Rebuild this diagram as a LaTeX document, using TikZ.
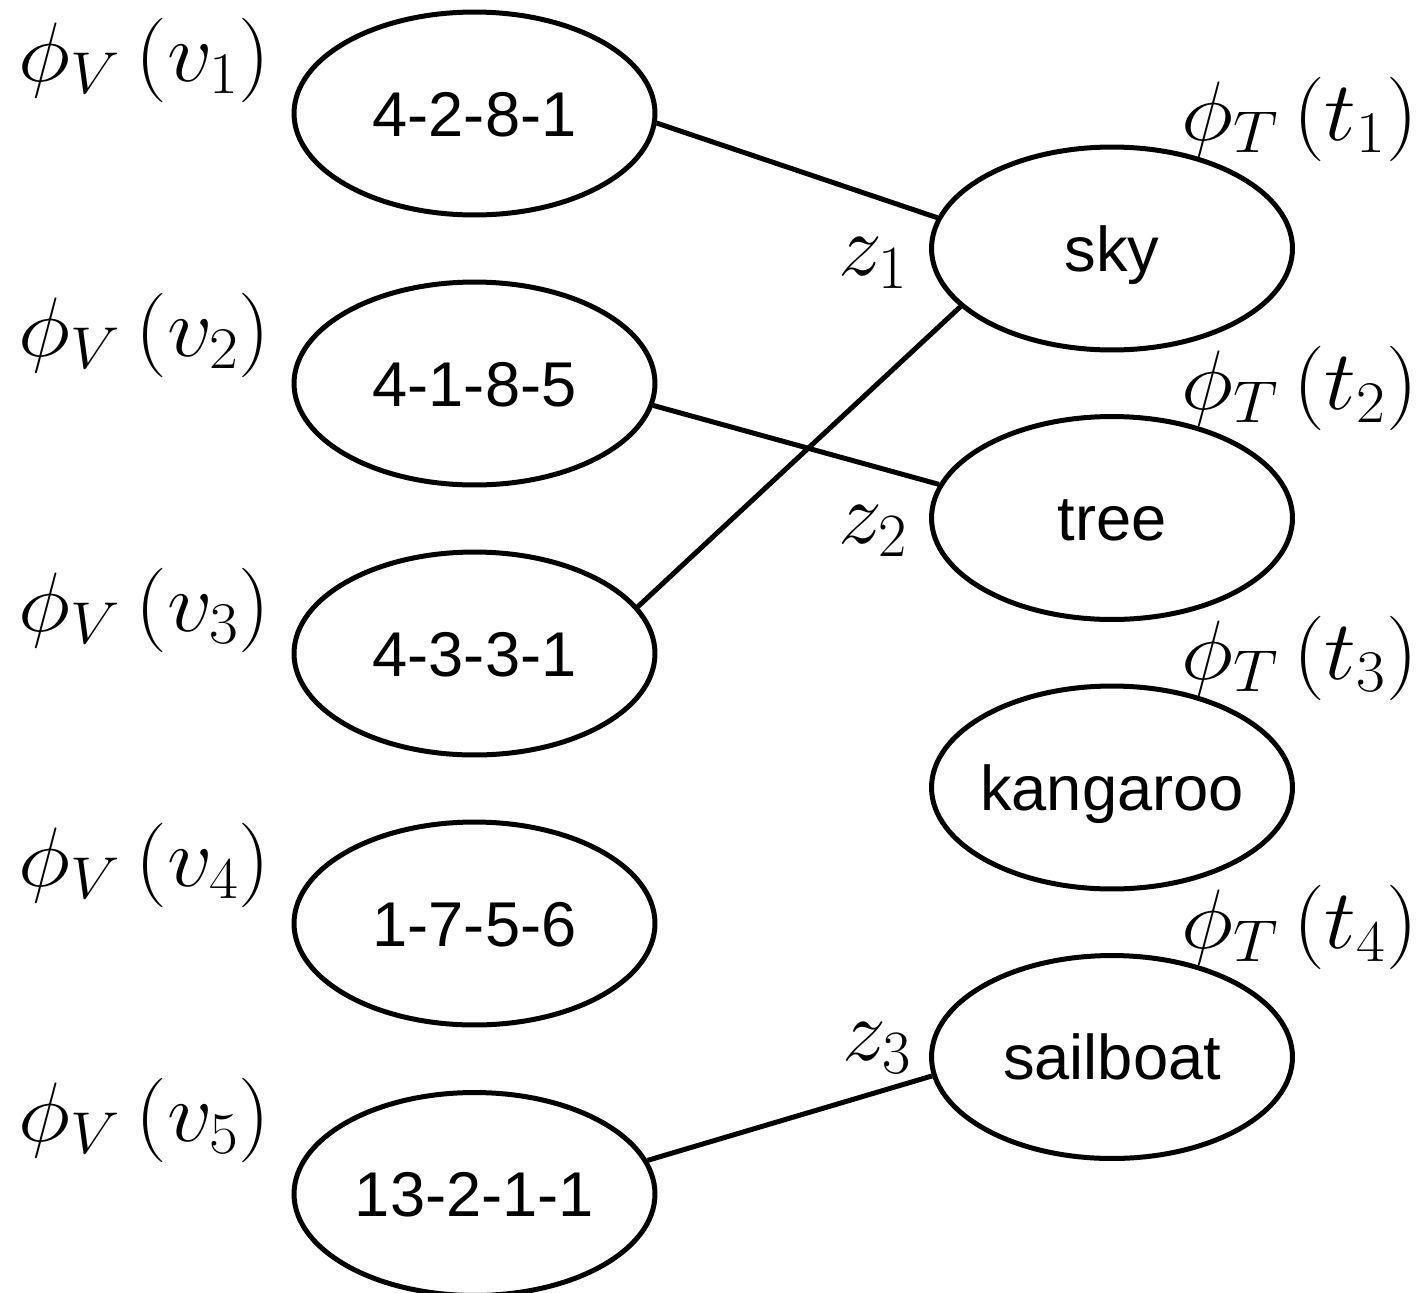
\RequirePackage{fix-cm}
\documentclass[tikz,border=0pt]{standalone}
\usepackage{fontspec}
\setmainfont{Liberation Sans}
\usetikzlibrary{shapes.geometric}
\newcommand{\emb}[3]{\scalebox{1.06}[1]{$\phi_{#1}\,(#2_{#3})$}}
\tikzset{
  item/.style={draw, ellipse, line width=0.1cm, minimum width=7.22cm, minimum height=4.06cm,
    inner xsep=-0.3cm, inner ysep=0pt, text height=25.8pt, text depth=0pt,
    font=\fontsize{36}{43}\selectfont},
  tag/.style={inner sep=0pt, anchor=base, font=\fontsize{48}{58}\selectfont},
  zlab/.style={inner sep=0pt, anchor=base, font=\fontsize{50}{60}\selectfont},
  link/.style={line width=0.1cm}
}
\begin{document}
\begin{tikzpicture}[x=0.02cm,y=-0.02cm]
\useasboundingbox (0,0) rectangle (1427,1292);
% left column: codes
\node[item] (v1) at (474.5,113.5) {4-2-8-1};
\node[item] (v2) at (474.5,383.5) {4-1-8-5};
\node[item] (v3) at (474.5,653.5) {4-3-3-1};
\node[item] (v4) at (474.5,923.5) {1-7-5-6};
\node[item] (v5) at (474.5,1194) {13-2-1-1};
% right column: words
\node[item] (t1) at (1112,248.5) {sky};
\node[item] (t2) at (1112,518) {tree};
\node[item] (t3) at (1112,787.5) {kangaroo};
\node[item] (t4) at (1112,1057) {sailboat};
% embedding labels (placed by baseline)
\node[tag] (lv1) at (144.5,81) {\emb{V}{v}{1}};
\node[tag] (lv2) at (144.5,356) {\emb{V}{v}{2}};
\node[tag] (lv3) at (144.5,631) {\emb{V}{v}{3}};
\node[tag] (lv4) at (144.5,886) {\emb{V}{v}{4}};
\node[tag] (lv5) at (144.5,1141) {\emb{V}{v}{5}};
\node[tag] (lt1) at (1299.5,140) {\emb{T}{t}{1}};
\node[tag] (lt2) at (1299.5,409.5) {\emb{T}{t}{2}};
\node[tag] (lt3) at (1299.5,679) {\emb{T}{t}{3}};
\node[tag] (lt4) at (1299.5,948.5) {\emb{T}{t}{4}};
% matches
\node[zlab] (z1) at (873,275) {$z_1$};
\node[zlab] (z2) at (873,543) {$z_2$};
\node[zlab] (z3) at (877,1060) {$z_3$};
\draw[link] (v1.-3) -- (t1.170);
\draw[link] (v2.-7) -- (t2.169.5);
\draw[link] (v3.16) -- (t1.201.6);
\draw[link] (v5.11.8) -- (t4.186.6);
\end{tikzpicture}
\end{document}
